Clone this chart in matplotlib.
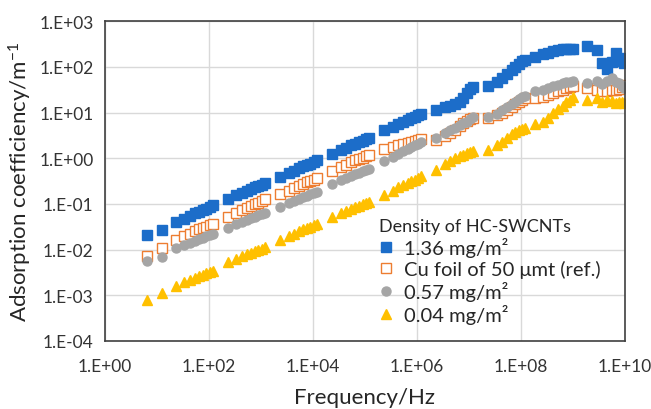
import numpy as np
import matplotlib.pyplot as plt
from matplotlib.ticker import FuncFormatter

plt.rcParams['font.family'] = ['Lato', 'DejaVu Sans']
plt.rcParams['mathtext.fontset'] = 'custom'
plt.rcParams['mathtext.rm'] = 'Lato'
plt.rcParams['mathtext.it'] = 'Lato:italic'

# frequency points (Hz), shared by all series
freq = [6.5, 12.5,
        23, 34, 44, 55, 66, 78, 90, 104, 120,
        230, 340, 440, 550, 660, 780, 900, 1040, 1200,
        2.3e3, 3.4e3, 4.4e3, 5.5e3, 6.6e3, 7.8e3, 9.0e3, 1.04e4, 1.2e4,
        2.3e4, 3.4e4, 4.4e4, 5.5e4, 6.6e4, 7.8e4, 9.0e4, 1.04e5, 1.2e5,
        2.3e5, 3.4e5, 4.4e5, 5.5e5, 6.6e5, 7.8e5, 9.0e5, 1.04e6, 1.2e6,
        2.3e6, 3.4e6, 4.4e6, 5.5e6, 6.6e6, 7.8e6, 9.0e6, 1.04e7, 1.2e7,
        2.3e7, 3.4e7, 4.4e7, 5.5e7, 6.6e7, 7.8e7, 9.0e7, 1.04e8, 1.2e8,
        1.9e8, 2.6e8, 3.3e8, 4.2e8, 5.2e8, 6.3e8, 7.5e8, 8.7e8, 1.0e9,
        1.9e9, 2.9e9, 3.6e9, 4.6e9, 5.6e9, 6.6e9, 7.6e9, 8.6e9, 9.6e9]

# log10 of absorption coefficient (1/m)
log_136 = [-1.69, -1.57,
           -1.40, -1.32, -1.26, -1.21, -1.17, -1.14, -1.11, -1.07, -1.03,
           -0.89, -0.81, -0.76, -0.71, -0.67, -0.64, -0.61, -0.58, -0.55,
           -0.41, -0.33, -0.27, -0.22, -0.18, -0.15, -0.12, -0.08, -0.05,
           0.09, 0.17, 0.23, 0.28, 0.32, 0.35, 0.38, 0.42, 0.45,
           0.61, 0.69, 0.75, 0.80, 0.84, 0.87, 0.90, 0.94, 0.97,
           1.06, 1.11, 1.15, 1.18, 1.24, 1.32, 1.42, 1.52, 1.56,
           1.57, 1.67, 1.75, 1.84, 1.92, 2.00, 2.06, 2.12, 2.15,
           2.22, 2.27, 2.31, 2.35, 2.37, 2.39, 2.39, 2.39, 2.38,
           2.46, 2.36, 2.08, 1.95, 2.10, 2.30, 2.12, 2.20, 2.08]

log_cu = [-2.15, -1.97,
          -1.79, -1.71, -1.65, -1.60, -1.56, -1.53, -1.50, -1.47, -1.44,
          -1.28, -1.19, -1.13, -1.08, -1.04, -1.00, -0.97, -0.93, -0.90,
          -0.79, -0.71, -0.65, -0.60, -0.56, -0.53, -0.50, -0.47, -0.44,
          -0.28, -0.20, -0.14, -0.09, -0.05, -0.02, 0.01, 0.04, 0.07,
          0.20, 0.25, 0.29, 0.32, 0.34, 0.36, 0.38, 0.40, 0.42,
          0.40, 0.48, 0.55, 0.62, 0.70, 0.76, 0.82, 0.86, 0.88,
          0.89, 0.95, 1.00, 1.06, 1.12, 1.18, 1.23, 1.28, 1.31,
          1.31, 1.35, 1.38, 1.42, 1.46, 1.49, 1.53, 1.56, 1.57,
          1.53, 1.50, 1.47, 1.46, 1.49, 1.50, 1.52, 1.56, 1.60]

log_057 = [-2.26, -2.17,
           -1.97, -1.90, -1.85, -1.81, -1.77, -1.74, -1.71, -1.68, -1.66,
           -1.52, -1.44, -1.39, -1.35, -1.31, -1.28, -1.25, -1.22, -1.20,
           -1.06, -0.98, -0.93, -0.89, -0.85, -0.82, -0.79, -0.76, -0.73,
           -0.56, -0.48, -0.43, -0.39, -0.35, -0.32, -0.29, -0.26, -0.23,
           -0.07, 0.03, 0.10, 0.16, 0.20, 0.25, 0.28, 0.32, 0.36,
           0.44, 0.56, 0.62, 0.67, 0.72, 0.76, 0.80, 0.86, 0.90,
           0.91, 0.97, 1.05, 1.12, 1.18, 1.24, 1.30, 1.34, 1.36,
           1.47, 1.50, 1.53, 1.58, 1.61, 1.64, 1.66, 1.67, 1.68,
           1.64, 1.68, 1.62, 1.70, 1.75, 1.66, 1.65, 1.58, 1.53]

log_004 = [-3.10, -2.94,
           -2.79, -2.71, -2.66, -2.62, -2.58, -2.55, -2.52, -2.50, -2.47,
           -2.28, -2.20, -2.15, -2.10, -2.07, -2.04, -2.01, -1.98, -1.95,
           -1.79, -1.71, -1.65, -1.60, -1.56, -1.53, -1.50, -1.47, -1.44,
           -1.28, -1.20, -1.15, -1.11, -1.07, -1.04, -1.01, -0.99, -0.96,
           -0.80, -0.71, -0.64, -0.59, -0.54, -0.51, -0.47, -0.43, -0.40,
           -0.25, -0.12, -0.06, 0.00, 0.05, 0.08, 0.11, 0.14, 0.16,
           0.18, 0.28, 0.36, 0.44, 0.52, 0.58, 0.62, 0.65, 0.67,
           0.74, 0.80, 0.88, 1.00, 1.08, 1.14, 1.22, 1.28, 1.33,
           1.28, 1.31, 1.24, 1.27, 1.25, 1.20, 1.22, 1.24, 1.21]

labels = ["1.36 mg/m\u00b2", "Cu foil of 50 \u03bcmt (ref.)", "0.57 mg/m\u00b2", "0.04 mg/m\u00b2"]
xticks = [1e0, 1e2, 1e4, 1e6, 1e8, 1e10]
yticks = [1e-4, 1e-3, 1e-2, 1e-1, 1e0, 1e1, 1e2, 1e3]


def sci(v, pos):
    e = int(round(np.log10(v)))
    return "1.E%s%02d" % ("+" if e >= 0 else "-", abs(e))


fig = plt.figure(figsize=(6.51, 4.10), dpi=100)
ax = fig.add_axes([0.161, 0.166, 0.799, 0.780])

f = np.array(freq)
ax.plot(f, np.power(10.0, log_136), 's', color='#1c6dc9', ms=6.5, mec='#1c6dc9', label=labels[0])
ax.plot(f, np.power(10.0, log_cu), 's', color='#ed7d31', ms=7, mfc='white', mew=1.0, label=labels[1])
ax.plot(f, np.power(10.0, log_057), 'o', color='#a5a5a5', ms=6.5, label=labels[2])
ax.plot(f, np.power(10.0, log_004), '^', color='#ffc000', ms=6.5, label=labels[3])

ax.set_xscale('log')
ax.set_yscale('log')
ax.set_xticks(xticks)
ax.set_yticks(yticks)
ax.minorticks_off()
ax.set_xlim(1, 1e10)
ax.set_ylim(1e-4, 1e3)
ax.xaxis.set_major_formatter(FuncFormatter(sci))
ax.yaxis.set_major_formatter(FuncFormatter(sci))
ax.tick_params(length=0, labelsize=12.5, pad=8, colors='#333333')
ax.tick_params(axis='x', pad=12)
ax.grid(True, color='#d9d9d9', linewidth=1.0)
ax.set_axisbelow(True)
for s in ax.spines.values():
    s.set_color('#404040')
    s.set_linewidth(1.2)

ax.set_xlabel("Frequency/Hz", fontsize=16, color='#262626', labelpad=10)
ax.set_ylabel("Adsorption coefficiency/m$^{-1}$", fontsize=16, color='#262626', labelpad=4)

leg = ax.legend(loc='lower left', bbox_to_anchor=(0.493, -0.005), frameon=False,
                title="Density of HC-SWCNTs", fontsize=14.5, title_fontsize=13,
                handlelength=0.7, handletextpad=0.5, labelspacing=0.15,
                alignment='left')
for t in leg.get_texts():
    t.set_color('#262626')
leg.get_title().set_color('#262626')

fig.savefig("out.png", dpi=100)
